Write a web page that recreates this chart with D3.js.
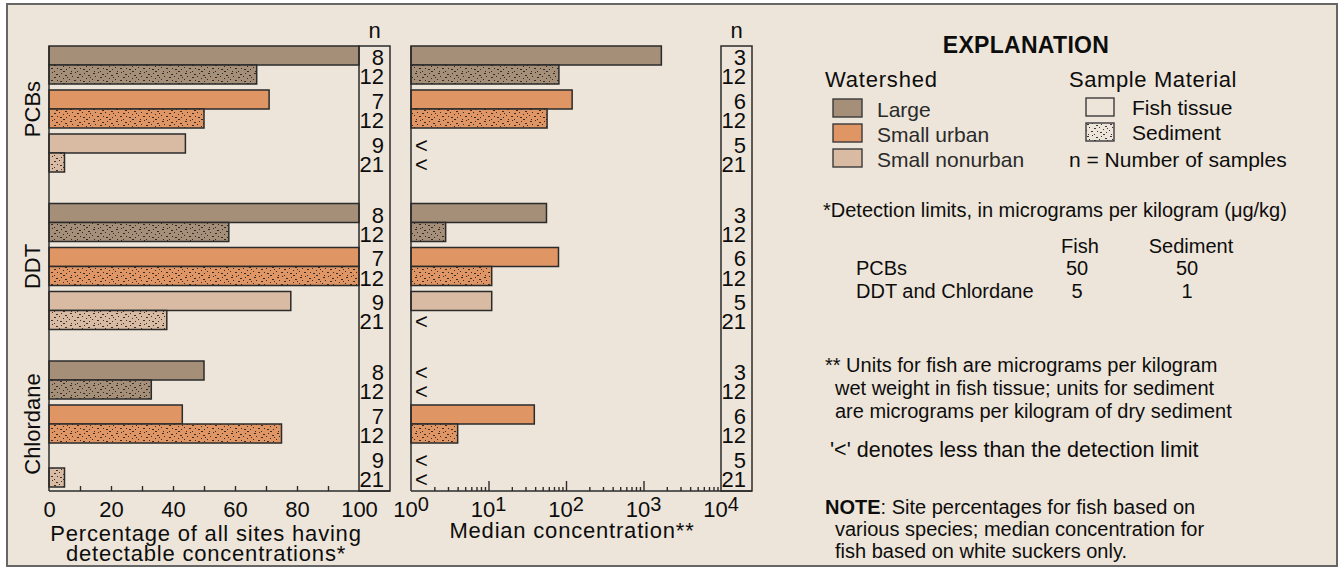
<!DOCTYPE html>
<html><head><meta charset="utf-8">
<script src="https://cdn.jsdelivr.net/npm/d3@7"></script>
<style>
body{margin:0;background:#fff;}
svg text{font-family:"Liberation Sans",Arial,Helvetica,sans-serif;fill:#0d0d0d;}
</style></head><body>
<svg id="c" width="1339" height="575"></svg>
<script>
// ---------- data ----------
const contaminants = ["PCBs", "DDT", "Chlordane"];
const watersheds = ["Large", "Small urban", "Small nonurban"];
const materials = ["Fish tissue", "Sediment"];
// order within each contaminant: Large fish, Large sed, Urban fish, Urban sed, Nonurban fish, Nonurban sed
const pctPCBs = [100, 67, 71, 50, 44, 5];
const pctDDT = [100, 58, 100, 100, 78, 38];
const pctChlordane = [50, 33, 43, 75, 0, 5];
const nPercent = [8, 12, 7, 12, 9, 21];
// median concentrations (null = less than detection limit)
const medPCBs = [1700, 81, 120, 57, null, null];
const medDDT = [56, 2.8, 80, 11, 11, null];
const medChlordane = [null, null, 39, 4, null, null];
const nMedian = [3, 12, 6, 12, 5, 21];
const pctTicks = [0, 20, 40, 60, 80, 100];
const logTicks = [1, 10, 100, 1000, 10000];
const detectRows = ["PCBs", "DDT and Chlordane"];
const detectFish = ["50", "5"];
const detectSed = ["50", "1"];

const pctByC = {PCBs: pctPCBs, DDT: pctDDT, Chlordane: pctChlordane};
const medByC = {PCBs: medPCBs, DDT: medDDT, Chlordane: medChlordane};

const colors = {"Large": "#a58f79", "Small urban": "#e09565", "Small nonurban": "#d9bba3"};
const BG = "#ede5d9";
const STROKE = "#2b2b2b";

// ---------- rows ----------
const rows = [];
contaminants.forEach(c => {
  watersheds.forEach((w, wi) => {
    materials.forEach((m, mi) => {
      const i = wi * 2 + mi;
      rows.push({c, w, m, pct: pctByC[c][i], med: medByC[c][i], nP: nPercent[i], nM: nMedian[i]});
    });
  });
});

const svg = d3.select("#c");
const defs = svg.append("defs");
const specks = [[1,1,2],[6,0,1],[10,2,2],[15,1,1],[19,3,2],[3,4,1],[8,5,2],[13,4,1],[17,6,1],[0,7,1],[5,8,2],[11,8,1],[14,9,2],[20,9,1],[2,11,1],[8,11,1],[17,11,2],[21,5,1]];
function makePattern(id, base) {
  const p = defs.append("pattern").attr("id", id).attr("patternUnits", "userSpaceOnUse")
    .attr("width", 23).attr("height", 12);
  p.append("rect").attr("width", 23).attr("height", 12).attr("fill", base);
  specks.forEach(s => p.append("rect").attr("x", s[0]).attr("y", s[1]).attr("width", s[2]).attr("height", 1).attr("fill", "#1a1a1a").attr("opacity", 0.85));
}
watersheds.forEach((w, i) => makePattern("sed" + i, colors[w]));
makePattern("sedBG", BG);
const fillFor = d => d.m === "Sediment" ? `url(#sed${watersheds.indexOf(d.w)})` : colors[d.w];

// frame
svg.append("rect").attr("x", 7).attr("y", 4).attr("width", 1330).attr("height", 562)
  .attr("fill", BG).attr("stroke", "#666").attr("stroke-width", 2);

// ---------- scales ----------
const yGroup = d3.scaleBand().domain(contaminants).range([46, 487]).paddingInner(0.2).paddingOuter(0);
const yPair = d3.scaleBand().domain(watersheds).range([0, yGroup.bandwidth()]).paddingInner(0.136);
const yMat = d3.scaleBand().domain(materials).range([0, yPair.bandwidth()]);
const rowY = d => yGroup(d.c) + yPair(d.w) + yMat(d.m);
const bh = yMat.bandwidth();
const plotTop = 46, axisY = 491;

const xPct = d3.scaleLinear().domain([0, 100]).range([49, 359]);
const xLog = d3.scaleLog().domain([1, 10000]).range([411, 721]);
const nBoxW = 31;

// ---------- left panel ----------
const L = svg.append("g");
L.selectAll("rect.bar").data(rows.filter(d => d.pct > 0)).join("rect").attr("class", "bar")
  .attr("x", xPct(0)).attr("y", rowY).attr("width", d => xPct(d.pct) - xPct(0)).attr("height", bh)
  .attr("fill", fillFor).attr("stroke", STROKE).attr("stroke-width", 1.5);

// ---------- right panel ----------
const R = svg.append("g");
R.selectAll("rect.bar").data(rows.filter(d => d.med != null)).join("rect").attr("class", "bar")
  .attr("x", xLog(1)).attr("y", rowY).attr("width", d => xLog(d.med) - xLog(1)).attr("height", bh)
  .attr("fill", fillFor).attr("stroke", STROKE).attr("stroke-width", 1.5);
R.selectAll("text.lt").data(rows.filter(d => d.med == null)).join("text").attr("class", "lt")
  .attr("x", xLog(1) + 4).attr("y", d => rowY(d) + bh / 2 + 9.5)
  .attr("font-size", 22).text("<");

// ---------- frames, n columns, axes ----------
function panelFrame(g, x0, x1, nKey) {
  g.append("line").attr("x1", x0).attr("x2", x0).attr("y1", plotTop).attr("y2", axisY).attr("stroke", STROKE).attr("stroke-width", 1.5);
  g.append("rect").attr("x", x1).attr("y", plotTop).attr("width", nBoxW).attr("height", axisY - plotTop)
    .attr("fill", "none").attr("stroke", STROKE).attr("stroke-width", 1.5);
  g.append("line").attr("x1", x0).attr("x2", x1 + nBoxW).attr("y1", axisY).attr("y2", axisY).attr("stroke", STROKE).attr("stroke-width", 1.7);
  g.append("text").attr("x", x1 + nBoxW / 2).attr("y", 38).attr("text-anchor", "middle").attr("font-size", 22).text("n");
  g.selectAll("text.n").data(rows).join("text").attr("class", "n")
    .attr("x", x1 + nBoxW - 6).attr("y", d => rowY(d) + bh / 2 + 9.5).attr("text-anchor", "end")
    .attr("font-size", 22).text(d => d[nKey]);
}
panelFrame(L, xPct(0), xPct(100), "nP");
panelFrame(R, xLog(1), xLog(10000), "nM");

// left axis ticks
const axL = L.append("g").attr("transform", `translate(0,${axisY})`)
  .call(d3.axisBottom(xPct).tickValues(d3.range(10, 100, 10)).tickSize(-5).tickFormat(""));
axL.select(".domain").remove();
axL.selectAll("line").attr("stroke", STROKE).attr("stroke-width", 1.4);
const axL2 = L.append("g").attr("transform", `translate(0,${axisY})`)
  .call(d3.axisBottom(xPct).tickValues(pctTicks).tickSize(0).tickPadding(10));
axL2.select(".domain").remove();
axL2.attr("font-size", null).attr("font-family", null);
axL2.selectAll("text").attr("font-size", 22).attr("fill", "#0d0d0d");

// right axis ticks
const minor = [];
[1, 10, 100, 1000].forEach(b => d3.range(2, 10).forEach(k => minor.push(b * k)));
const axR = R.append("g").attr("transform", `translate(0,${axisY})`)
  .call(d3.axisBottom(xLog).tickValues(minor).tickSize(-4).tickFormat(""));
axR.select(".domain").remove();
axR.selectAll("line").attr("stroke", STROKE).attr("stroke-width", 1.4);
const axR2 = R.append("g").attr("transform", `translate(0,${axisY})`)
  .call(d3.axisBottom(xLog).tickValues([10, 100, 1000]).tickSize(-10).tickFormat(""));
axR2.select(".domain").remove();
axR2.selectAll("line").attr("stroke", STROKE).attr("stroke-width", 1.4);
const lbl = R.selectAll("text.lg").data(logTicks).join("text").attr("class", "lg")
  .attr("x", d => xLog(d)).attr("y", 516.5).attr("text-anchor", "middle").attr("font-size", 22);
lbl.append("tspan").text("10");
lbl.append("tspan").attr("dy", -6).attr("font-size", 20).text(d => Math.round(Math.log10(d)));

// group labels
svg.selectAll("text.gl").data(contaminants).join("text").attr("class", "gl")
  .attr("transform", c => `translate(40,${yGroup(c) + yGroup.bandwidth() / 2}) rotate(-90)`)
  .attr("text-anchor", "middle").attr("font-size", 22).text(c => c);

// axis titles
const t1 = svg.append("text").attr("text-anchor", "middle").attr("font-size", 22).attr("letter-spacing", 0.8);
t1.append("tspan").attr("x", 206).attr("y", 540.5).text("Percentage of all sites having");
t1.append("tspan").attr("x", 206).attr("y", 560.5).text("detectable concentrations*");
svg.append("text").attr("x", 572).attr("y", 538).attr("text-anchor", "middle").attr("font-size", 22)
  .attr("letter-spacing", 0.8).text("Median concentration**");

// ---------- explanation ----------
const E = svg.append("g");
E.append("text").attr("x", 1026).attr("y", 53).attr("text-anchor", "middle").attr("font-size", 23)
  .attr("font-weight", "bold").attr("letter-spacing", 0.3).text("EXPLANATION");
E.append("text").attr("x", 825).attr("y", 86.5).attr("font-size", 22).attr("letter-spacing", 0.8).text("Watershed");
E.append("text").attr("x", 1069).attr("y", 86.5).attr("font-size", 22).attr("letter-spacing", 0.6).text("Sample Material");
const ws = E.selectAll("g.ws").data(watersheds).join("g").attr("class", "ws")
  .attr("transform", (d, i) => `translate(833,${99 + i * 25})`);
ws.append("rect").attr("width", 29).attr("height", 18).attr("fill", d => colors[d]).attr("stroke", "#3a3a3a").attr("stroke-width", 1.4);
ws.append("text").attr("x", 44).attr("y", 17.5).attr("font-size", 21).style("fill", "#2a2a2a").text(d => d);
const ms = E.selectAll("g.ms").data(materials).join("g").attr("class", "ms")
  .attr("transform", (d, i) => `translate(1086,${98 + i * 25})`);
ms.append("rect").attr("width", 28).attr("height", 18).attr("fill", (d, i) => i ? "url(#sedBG)" : BG)
  .attr("stroke", "#3a3a3a").attr("stroke-width", 1.4);
ms.append("text").attr("x", 46).attr("y", 16.5).attr("font-size", 21).text(d => d);
E.append("text").attr("x", 1069).attr("y", 167).attr("font-size", 21).text("n = Number of samples");

E.append("text").attr("x", 823).attr("y", 216.5).attr("font-size", 20).text("*Detection limits, in micrograms per kilogram (\u03bcg/kg)");
E.append("text").attr("x", 1080).attr("y", 253).attr("text-anchor", "middle").attr("font-size", 20).text("Fish");
E.append("text").attr("x", 1191).attr("y", 253).attr("text-anchor", "middle").attr("font-size", 20).text("Sediment");
detectRows.forEach((r, i) => {
  const y = 275 + i * 23.3;
  E.append("text").attr("x", 856).attr("y", y).attr("font-size", 20).text(r);
  E.append("text").attr("x", 1077).attr("y", y).attr("text-anchor", "middle").attr("font-size", 20).text(detectFish[i]);
  E.append("text").attr("x", 1187).attr("y", y).attr("text-anchor", "middle").attr("font-size", 20).text(detectSed[i]);
});
const u = E.append("text").attr("font-size", 20);
u.append("tspan").attr("x", 825).attr("y", 371.5).text("** Units for fish are micrograms per kilogram");
u.append("tspan").attr("x", 835).attr("y", 395).text("wet weight in fish tissue; units for sediment");
u.append("tspan").attr("x", 835).attr("y", 418.3).text("are micrograms per kilogram of dry sediment");
E.append("text").attr("x", 830).attr("y", 456.5).attr("font-size", 21.5).text("'<' denotes less than the detection limit");
const nt = E.append("text").attr("font-size", 20);
const l1 = nt.append("tspan").attr("x", 825).attr("y", 514);
l1.append("tspan").attr("font-weight", "bold").text("NOTE");
l1.append("tspan").text(": Site percentages for fish based on");
nt.append("tspan").attr("x", 835).attr("y", 536).text("various species; median concentration for");
nt.append("tspan").attr("x", 835).attr("y", 557.5).text("fish based on white suckers only.");
</script>
</body></html>
